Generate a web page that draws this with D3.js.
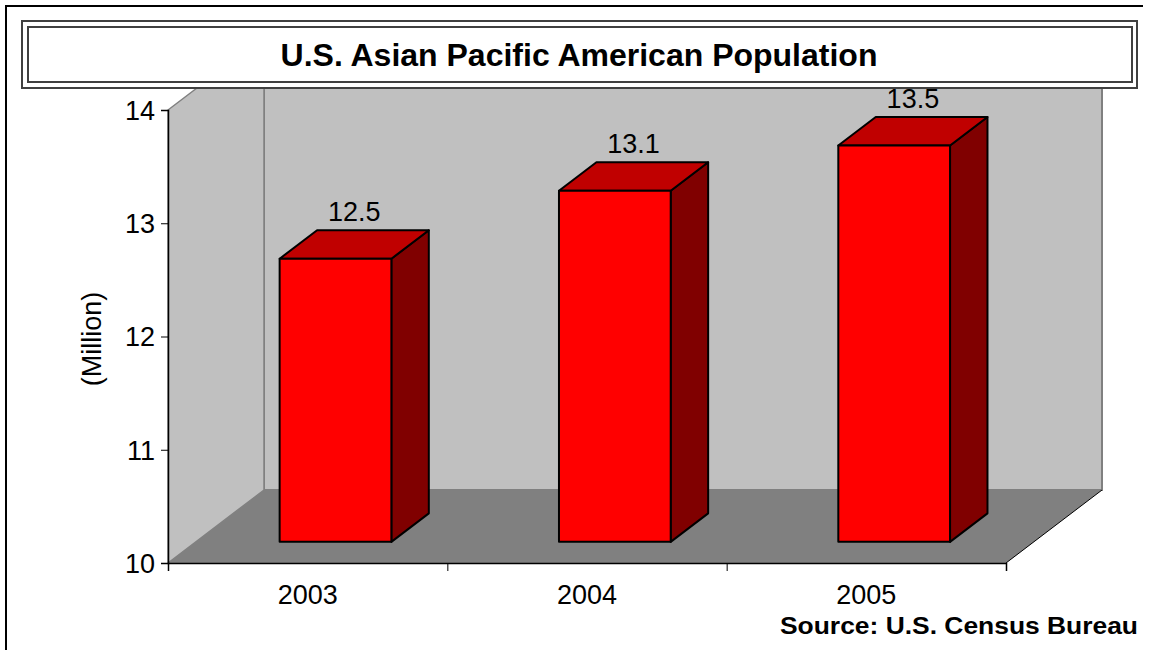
<!DOCTYPE html>
<html><head><meta charset="utf-8">
<script src="https://cdn.jsdelivr.net/npm/d3@7"></script>
<style>body{margin:0;background:#fff}svg{display:block}text{font-family:Arial,"Liberation Sans",sans-serif}</style>
</head><body>
<script>
const categories = ["2003", "2004", "2005"];
const values = [12.5, 13.1, 13.5];
const valueLabels = ["12.5", "13.1", "13.5"];
const yTicks = [10, 11, 12, 13, 14];
const title = "U.S. Asian Pacific American Population";
const yTitle = "(Million)";
const source = "Source: U.S. Census Bureau";

const W = 1152, H = 650;
const FONT = "Arial,'Liberation Sans',sans-serif";
const svg = d3.select("body").append("svg").attr("width", W).attr("height", H);

const x0 = 168, x1 = 1006;
const x = d3.scaleBand().domain(categories).range([x0, x1]);
const y = d3.scaleLinear().domain([10, 14]).range([563, 110]);
const DX = 96, DY = -73;           // depth of the whole plot
const zF = 0.29, zB = 0.68;        // bar front/back depth fractions
const barW = x.bandwidth() * 0.4;

// outer frame
svg.append("path").attr("d", `M6,650 L6,6 L1143,6`).attr("fill", "none").attr("stroke", "#000").attr("stroke-width", 2);

const g = svg.append("g");
const yMin = y(10), yMax = y(14);
// back wall
g.append("polygon").attr("points", [[x0+DX, yMax+DY], [x1+DX, yMax+DY], [x1+DX, yMin+DY], [x0+DX, yMin+DY]].join(" "))
  .attr("fill", "#c0c0c0").attr("stroke", "#808080").attr("stroke-width", 2);
// side wall
g.append("polygon").attr("points", [[x0, yMax], [x0+DX, yMax+DY], [x0+DX, yMin+DY], [x0, yMin]].join(" "))
  .attr("fill", "#c0c0c0").attr("stroke", "#808080").attr("stroke-width", 1.5);
// floor
g.append("polygon").attr("points", [[x0, yMin], [x0+DX, yMin+DY], [x1+DX, yMin+DY], [x1, yMin]].join(" "))
  .attr("fill", "#808080");
g.append("line").attr("x1", x1).attr("y1", yMin).attr("x2", x1+DX).attr("y2", yMin+DY).attr("stroke", "#000").attr("stroke-width", 1);

// bars
const bars = g.selectAll("g.bar").data(values).join("g").attr("class", "bar");
bars.each(function(v, i) {
  const gg = d3.select(this);
  const cx = x(categories[i]) + x.bandwidth()/2;
  const fx = cx - barW/2 + DX*zF, fy0 = y(10) + DY*zF, fy1 = y(v) + DY*zF;
  const ddx = DX*(zB - zF), ddy = DY*(zB - zF);
  const st = {stroke: "#000", "stroke-width": 2, "stroke-linejoin": "round"};
  const poly = (pts, fill) => { const p = gg.append("polygon").attr("points", pts.join(" ")).attr("fill", fill); for (const k in st) p.attr(k, st[k]); };
  poly([[fx+barW, fy1], [fx+barW+ddx, fy1+ddy], [fx+barW+ddx, fy0+ddy], [fx+barW, fy0]], "#800000");
  poly([[fx, fy1], [fx+ddx, fy1+ddy], [fx+barW+ddx, fy1+ddy], [fx+barW, fy1]], "#c00000");
  poly([[fx, fy1], [fx+barW, fy1], [fx+barW, fy0], [fx, fy0]], "#ff0000");
  gg.append("text").attr("x", fx + barW/2 + ddx/2).attr("y", fy1 + ddy - 9)
    .attr("text-anchor", "middle").attr("font-size", 27).attr("fill", "#000").text(valueLabels[i]);
});

// y axis
const yAxis = g.append("g").attr("transform", `translate(${x0},0)`)
  .call(d3.axisLeft(y).tickValues(yTicks).tickSize(7).tickPadding(6).tickFormat(d3.format("d")));
yAxis.select(".domain").attr("stroke", "#000").attr("stroke-width", 1.5);
yAxis.selectAll("text").attr("font-size", 27).attr("fill", "#000").attr("font-family", FONT).attr("dy", "0.35em");
yAxis.selectAll("line").attr("stroke", "#000");

// x axis
const edges = d3.scaleLinear().domain([0, categories.length]).range([x0, x1]);
const xAxis = g.append("g").attr("transform", `translate(0,${yMin})`)
  .call(d3.axisBottom(edges).tickValues(d3.range(categories.length + 1)).tickSize(8).tickFormat(""));
xAxis.select(".domain").attr("stroke", "#000").attr("stroke-width", 1.5);
xAxis.selectAll("line").attr("stroke", "#000");
g.selectAll("text.xl").data(categories).join("text").attr("class", "xl")
  .attr("x", d => x(d) + x.bandwidth()/2).attr("y", 604).attr("text-anchor", "middle")
  .attr("font-size", 27).attr("fill", "#000").text(d => d);

// y title
svg.append("text").attr("transform", "translate(101,339) rotate(-90)").attr("text-anchor", "middle")
  .attr("font-size", 27).attr("fill", "#000").text(yTitle);

// title box
svg.append("rect").attr("x", 22).attr("y", 21).attr("width", 1115).attr("height", 67).attr("fill", "#fff").attr("stroke", "#404040").attr("stroke-width", 2);
svg.append("rect").attr("x", 28).attr("y", 27).attr("width", 1104).attr("height", 55).attr("fill", "none").attr("stroke", "#404040").attr("stroke-width", 2);
svg.append("text").attr("x", 579).attr("y", 66).attr("text-anchor", "middle").attr("font-size", 32).attr("font-weight", "bold").text(title);

// source
svg.append("text").attr("x", 1138).attr("y", 634).attr("text-anchor", "end").attr("font-size", 23)
  .attr("font-weight", "bold").attr("textLength", 358).attr("lengthAdjust", "spacingAndGlyphs").text(source);
</script>
</body></html>
